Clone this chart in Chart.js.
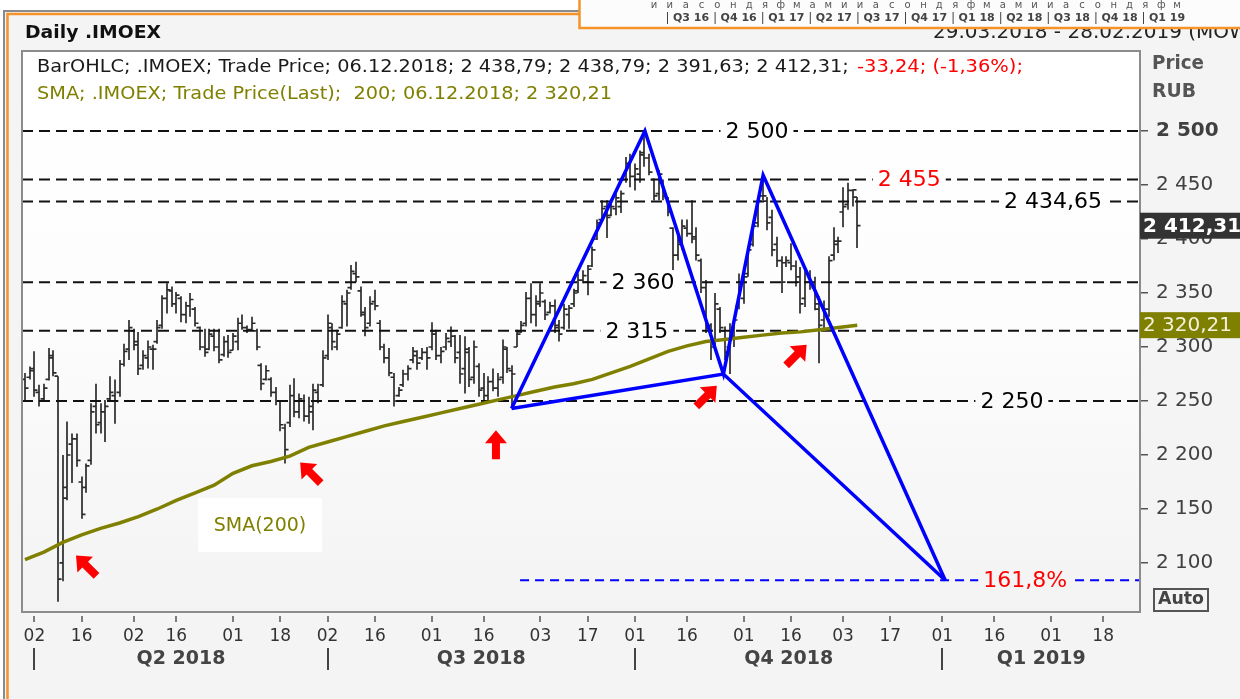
<!DOCTYPE html>
<html>
<head>
<meta charset="utf-8">
<title>Daily .IMOEX</title>
<script src="https://cdn.jsdelivr.net/npm/chart.js@4.4.0/dist/chart.umd.min.js"></script>
<style>
  html, body { margin: 0; padding: 0; background: #fff; }
  #wrap { width: 1240px; height: 699px; }
</style>
</head>
<body>
<div id="wrap"><canvas id="imoexChart" width="1240" height="699"></canvas></div>
<script>
// x is a trading-day index: 0 = 29.03.2018, 176 = 06.12.2018 (last bar)
const opens = [
  2270,2272,2280,2258,2252,2270,2292,2273,2100,2170, 2210,2215,2175,2170,2195,2245,2230,2240,2252,2255,
  2258,2284,2298,2315,2302,2283,2290,2298,2305,2320, 2345,2352,2340,2345,2330,2338,2335,2318,2300,2298,
  2310,2300,2293,2305,2297,2305,2322,2318,2316,2315, 2283,2270,2270,2258,2250,2225,2230,2255,2240,2250,
  2236,2240,2258,2265,2292,2318,2300,2318,2340,2355, 2368,2352,2330,2322,2342,2322,2300,2290,2272,2255,
  2265,2275,2288,2292,2290,2295,2300,2312,2292,2300, 2305,2310,2295,2280,2295,2272,2282,2262,2255,2268,
  2262,2272,2298,2278,2300,2314,2322,2345,2330,2340, 2342,2332,2338,2318,2318,2330,2340,2352,2362,2360,
  2375,2400,2418,2430,2422,2428,2430,2455,2470,2458, 2460,2480,2475,2455,2442,2452,2438,2410,2385,2395,
  2410,2405,2402,2380,2355,2320,2305,2335,2315,2300, 2310,2338,2345,2368,2395,2415,2440,2435,2420,2395,
  2380,2378,2378,2375,2365,2345,2360,2355,2335,2325, 2335,2385,2395,2425,2432,2445,2438.79
];
const highs = [
  2276,2282,2296,2265,2266,2299,2297,2273,2200,2231, 2220,2220,2180,2192,2248,2266,2248,2251,2273,2270,
  2288,2303,2325,2317,2314,2297,2306,2302,2325,2348, 2359,2356,2351,2347,2342,2350,2337,2319,2317,2317,
  2317,2317,2310,2311,2313,2327,2330,2320,2328,2317, 2285,2283,2272,2263,2251,2229,2265,2271,2257,2256,
  2254,2266,2266,2297,2330,2322,2316,2348,2353,2376, 2379,2356,2337,2347,2353,2325,2303,2299,2276,2263,
  2279,2283,2300,2297,2299,2300,2323,2316,2300,2313, 2319,2311,2311,2310,2300,2306,2285,2276,2273,2280,
  2276,2307,2300,2283,2316,2324,2351,2359,2348,2359, 2344,2342,2344,2325,2340,2339,2354,2368,2371,2376,
  2393,2418,2436,2436,2435,2442,2445,2476,2479,2470, 2482,2501,2479,2456,2464,2455,2439,2411,2405,2418,
  2418,2436,2411,2382,2362,2322,2350,2337,2319,2322, 2328,2368,2368,2393,2417,2439,2458,2439,2427,2402,
  2384,2384,2396,2380,2374,2371,2371,2365,2347,2343, 2384,2411,2402,2448,2452,2446,2438.79
];
const lows = [
  2251,2270,2254,2245,2249,2269,2273,2064,2083,2158, 2174,2189,2141,2165,2191,2220,2220,2212,2251,2229,
  2254,2282,2288,2297,2274,2279,2280,2279,2303,2317, 2331,2337,2331,2323,2322,2328,2319,2297,2291,2297,
  2296,2285,2291,2290,2297,2297,2316,2313,2316,2297, 2260,2269,2254,2246,2222,2192,2226,2235,2234,2231,
  2229,2223,2248,2263,2288,2297,2297,2317,2319,2353, 2360,2328,2310,2319,2334,2297,2285,2273,2245,2254,
  2263,2269,2285,2279,2288,2279,2297,2288,2285,2297, 2300,2285,2266,2257,2263,2266,2254,2248,2251,2259,
  2254,2266,2276,2245,2300,2313,2319,2322,2319,2337, 2325,2331,2313,2305,2316,2317,2337,2350,2359,2348,
  2374,2399,2418,2401,2421,2422,2424,2452,2448,2445, 2452,2467,2459,2436,2436,2436,2421,2371,2380,2390,
  2402,2396,2380,2350,2313,2288,2300,2313,2288,2275, 2300,2335,2340,2365,2393,2411,2436,2408,2384,2374,
  2350,2374,2371,2356,2331,2337,2353,2334,2285,2316, 2328,2380,2387,2411,2427,2430,2391.63
];
const closes = [
  2262,2278,2260,2250,2262,2290,2276,2085,2160,2200, 2215,2195,2145,2190,2240,2228,2240,2245,2258,2250,
  2284,2296,2318,2305,2280,2292,2300,2298,2318,2345, 2353,2340,2348,2330,2338,2344,2322,2300,2295,2312,
  2300,2288,2305,2295,2310,2322,2318,2316,2322,2300, 2266,2278,2258,2250,2228,2205,2255,2240,2252,2236,
  2245,2260,2250,2290,2322,2305,2312,2342,2350,2370, 2365,2332,2318,2340,2338,2300,2290,2276,2250,2260,
  2275,2280,2296,2285,2295,2290,2315,2292,2296,2308, 2315,2290,2275,2298,2270,2300,2260,2255,2268,2262,
  2270,2300,2280,2275,2312,2320,2345,2330,2342,2350, 2330,2338,2320,2312,2335,2336,2350,2362,2366,2372,
  2390,2415,2428,2420,2430,2438,2442,2470,2458,2465, 2478,2475,2462,2440,2460,2440,2425,2385,2398,2412,
  2405,2400,2385,2355,2318,2300,2340,2318,2295,2315, 2325,2360,2365,2390,2412,2435,2440,2415,2390,2380,
  2360,2380,2375,2360,2340,2360,2358,2340,2320,2335, 2380,2398,2398,2430,2445,2445.55,2412.31
];

// SMA(200), every 4th bar
const smaIndex = [0,4,8,12,16,20,24,28,32,36,40,44,48,52,56,60,64,68,72,76,80,84,88,92,96,100,104,108,112,116,120,124,128,132,136,140,144,148,152,156,160,164,168,172,176];
const smaValues = [2103,2110,2119,2126,2132,2137,2143,2150,2158,2165,2172,2183,2190,2194,2199,2207,2212,2217,2222,2227,2231,2235,2239,2243,2247,2251,2255,2259,2263,2266,2270,2276,2282,2289,2296,2301,2305,2307,2309,2311,2313,2314,2316,2318,2320.21];

// axis ticks
const tickIndex = [2,12,23,32,44,54,64,74,86,97,109,119,129,140,152,162,173,183,194,205,217,228];
const tickLabels = ['02','16','02','16','01','18','02','16','01','16','03','17','01','16','01','16','03','17','01','16','01','18'];
const quarterStart = [2,64,129,194];
const quarterLabels = ['Q2 2018','Q3 2018','Q4 2018','Q1 2019'];
const yTicks = [2100,2150,2200,2250,2300,2350,2400,2450,2500];

// horizontal levels drawn on the chart
const levelValues = [2500,2455,2434.65,2360,2315,2250];
const levelLabels = ['2 500','2 455','2 434,65','2 360','2 315','2 250'];
const levelLabelAt = [154.8,187,217.4,130.7,129.4,208.7];
const levelRed = [false,true,false,false,false,false];

// XABCD pattern and 161,8% projection
const patternX = [102.9,131.1,147.7,156.1,194.6];
const patternY = [2243,2500,2275,2459,2084];
const fibValue = 2084;
const fibStart = 104.7;
const fibLabelAt = 211.5;

// red arrows: tip position and direction
const arrowX = [10.8,58.2,99.6,146.3,165.3];
const arrowY = [2107,2193,2223,2264,2302];
const arrowDir = ['nw','nw','up','ne','ne'];

const lastClose = 2412.31;
const lastSma = 2320.21;

const X_MIN = -0.62, X_MAX = 235.79;
const FONT = 'DejaVu Sans';

function fmt(v) {
  return String(v).replace(/\B(?=(\d{3})+(?!\d))/g, ' ');
}

function fitText(ctx, text, x, y, width, font, color) {
  ctx.save();
  ctx.font = font;
  const w = ctx.measureText(text).width;
  ctx.translate(x, y);
  ctx.scale(width / w, 1);
  ctx.fillStyle = color;
  ctx.textAlign = 'left';
  ctx.textBaseline = 'middle';
  ctx.fillText(text, 0, 0);
  ctx.restore();
}

function drawArrow(ctx, tx, ty, dir) {
  const ang = { nw: -3 * Math.PI / 4, ne: -Math.PI / 4, up: -Math.PI / 2 }[dir];
  ctx.save();
  ctx.translate(tx, ty);
  ctx.rotate(ang);
  ctx.beginPath();
  ctx.moveTo(0, 0);
  ctx.lineTo(-13, -11);
  ctx.lineTo(-13, -4);
  ctx.lineTo(-29, -4);
  ctx.lineTo(-29, 4);
  ctx.lineTo(-13, 4);
  ctx.lineTo(-13, 11);
  ctx.closePath();
  ctx.fillStyle = '#ff0000';
  ctx.fill();
  ctx.restore();
}

// page background, window borders and the plot gradient
const backdrop = {
  id: 'backdrop',
  beforeDraw(chart) {
    const { ctx, chartArea: a, width: W, height: H } = chart;
    ctx.save();
    ctx.fillStyle = '#ffffff';
    ctx.fillRect(0, 0, W, H);
    ctx.fillStyle = '#f4f4f4';
    ctx.fillRect(5, 12, W - 5, H - 12);
    ctx.strokeStyle = '#8a8a8a';
    ctx.lineWidth = 2;
    ctx.beginPath(); ctx.moveTo(4, H); ctx.lineTo(4, 11); ctx.lineTo(W, 11); ctx.stroke();
    ctx.strokeStyle = '#f5922a';
    ctx.lineWidth = 2.5;
    ctx.beginPath(); ctx.moveTo(7.5, H); ctx.lineTo(7.5, 14); ctx.lineTo(W, 14); ctx.stroke();
    const g = ctx.createLinearGradient(0, a.top, 0, a.bottom);
    g.addColorStop(0, '#ffffff');
    g.addColorStop(0.45, '#fdfdfd');
    g.addColorStop(1, '#f3f3f3');
    chart.$plotBg = g;
    ctx.fillStyle = g;
    ctx.fillRect(a.left, a.top, a.right - a.left, a.bottom - a.top);
    ctx.restore();
  }
};

// OHLC bars through the chart scales
const ohlcBars = {
  id: 'ohlcBars',
  beforeDatasetsDraw(chart) {
    const { ctx, chartArea: a, scales: { x, y } } = chart;
    ctx.save();
    ctx.beginPath();
    ctx.rect(a.left, a.top, a.right - a.left, a.bottom - a.top);
    ctx.clip();
    ctx.strokeStyle = '#2b2b2b';
    ctx.lineWidth = 1.7;
    ctx.beginPath();
    for (let i = 0; i < closes.length; i++) {
      const px = Math.round(x.getPixelForValue(i));
      const po = y.getPixelForValue(opens[i]);
      const pc = y.getPixelForValue(closes[i]);
      ctx.moveTo(px, y.getPixelForValue(highs[i]));
      ctx.lineTo(px, y.getPixelForValue(lows[i]));
      ctx.moveTo(px - 3.5, po); ctx.lineTo(px, po);
      ctx.moveTo(px, pc); ctx.lineTo(px + 3.5, pc);
    }
    ctx.stroke();
    ctx.restore();
  }
};

// labels, arrows and the SMA(200) box inside the plot
const annotations = {
  id: 'annotations',
  afterDatasetsDraw(chart) {
    const { ctx, scales: { x, y } } = chart;
    ctx.save();
    ctx.font = '22px ' + FONT;
    ctx.textBaseline = 'middle';
    ctx.textAlign = 'center';
    const label = (text, xi, v, color) => {
      const px = x.getPixelForValue(xi);
      const py = y.getPixelForValue(v);
      const w = ctx.measureText(text).width + 10;
      ctx.fillStyle = chart.$plotBg;
      ctx.fillRect(px - w / 2, py - 12, w, 24);
      ctx.fillStyle = color;
      ctx.fillText(text, px, py + 1);
    };
    levelValues.forEach((v, k) => label(levelLabels[k], levelLabelAt[k], v, levelRed[k] ? '#ff0000' : '#000000'));
    label('161,8%', fibLabelAt, fibValue, '#ff0000');

    arrowX.forEach((xi, k) => drawArrow(ctx, x.getPixelForValue(xi), y.getPixelForValue(arrowY[k]), arrowDir[k]));

    const bx = x.getPixelForValue(49.7);
    const by = y.getPixelForValue(2135);
    ctx.fillStyle = '#ffffff';
    ctx.fillRect(bx - 62, by - 27, 124, 54);
    ctx.fillStyle = '#808000';
    ctx.font = '19px ' + FONT;
    ctx.fillText('SMA(200)', bx, by + 1);
    ctx.restore();
  }
};

// frame, header, legend, axis extras and value tags
const chrome = {
  id: 'chrome',
  afterDraw(chart) {
    const { ctx, chartArea: a, scales: { x, y }, width: W } = chart;
    ctx.save();
    ctx.strokeStyle = '#8c8c8c';
    ctx.lineWidth = 2;
    ctx.strokeRect(a.left, a.top, a.right - a.left, a.bottom - a.top);

    // header
    fitText(ctx, 'Daily .IMOEX', 25, 33, 136, 'bold 18px ' + FONT, '#111111');
    ctx.font = '20px ' + FONT;
    ctx.fillStyle = '#222222';
    ctx.textBaseline = 'alphabetic';
    ctx.textAlign = 'left';
    ctx.fillText('29.03.2018 - 28.02.2019 (MOW)', 933, 38);

    // overview strip in the top right corner (covers the top of the date range)
    ctx.fillStyle = '#fcfcfc';
    ctx.fillRect(579, 0, W - 579, 28);
    ctx.strokeStyle = '#f5922a';
    ctx.lineWidth = 2.5;
    ctx.beginPath(); ctx.moveTo(579.5, 0); ctx.lineTo(579.5, 28); ctx.lineTo(W, 28); ctx.stroke();
    const months = 'ииасондяфмамииасондяфмамииасондяфм';
    ctx.font = '10px ' + FONT;
    ctx.fillStyle = '#555555';
    ctx.textAlign = 'center';
    ctx.textBaseline = 'middle';
    for (let k = 0; k < months.length; k++) ctx.fillText(months[k], 654 + k * 15.85, 5);
    const quarters = ['Q3 16','Q4 16','Q1 17','Q2 17','Q3 17','Q4 17','Q1 18','Q2 18','Q3 18','Q4 18','Q1 19'];
    ctx.font = 'bold 11px ' + FONT;
    ctx.fillStyle = '#444444';
    ctx.textAlign = 'left';
    quarters.forEach((q, k) => {
      const qx = 667 + k * 47.6;
      ctx.fillRect(qx, 12, 1, 12);
      ctx.fillText(q, qx + 6, 18);
    });

    // legend lines
    fitText(ctx, 'BarOHLC; .IMOEX; Trade Price; 06.12.2018; 2 438,79; 2 438,79; 2 391,63; 2 412,31; ', 37, 68, 818, '17px ' + FONT, '#1a1a1a');
    fitText(ctx, '-33,24; (-1,36%);', 857, 68, 166, '17px ' + FONT, '#ff0000');
    fitText(ctx, 'SMA; .IMOEX; Trade Price(Last);  200; 06.12.2018; 2 320,21', 37, 95, 575, '17px ' + FONT, '#808000');

    // price axis title and Auto button
    fitText(ctx, 'Price', 1152, 64, 52, 'bold 19px ' + FONT, '#555555');
    fitText(ctx, 'RUB', 1152, 92, 44, 'bold 19px ' + FONT, '#555555');
    ctx.strokeStyle = '#555555';
    ctx.lineWidth = 2;
    ctx.strokeRect(1154, 589, 54, 22);
    fitText(ctx, 'Auto', 1158, 600, 46, 'bold 17px ' + FONT, '#444444');

    // x tick marks, quarter separators and labels
    ctx.fillStyle = '#555555';
    tickIndex.forEach(t => {
      const px = Math.round(x.getPixelForValue(t));
      ctx.fillRect(px - 0.75, 616, 1.5, 6);
    });
    ctx.fillStyle = '#444444';
    const qx = quarterStart.map(q => x.getPixelForValue(q));
    qx.forEach(px => ctx.fillRect(Math.round(px) - 1, 648, 2, 22));
    ctx.font = 'bold 19px ' + FONT;
    ctx.textAlign = 'center';
    ctx.textBaseline = 'middle';
    quarterLabels.forEach((q, k) => {
      const end = k + 1 < qx.length ? qx[k + 1] : a.right;
      ctx.fillText(q, (qx[k] + end) / 2, 659);
    });

    // last value tags on the price axis
    const tag = (v, bg, fg, font) => {
      const py = y.getPixelForValue(v);
      ctx.fillStyle = bg;
      ctx.fillRect(a.right, py - 13, W - a.right, 26);
      ctx.fillStyle = fg;
      ctx.font = font;
      ctx.textAlign = 'left';
      ctx.fillText(fmt(v).replace('.', ','), a.right + 3, py + 1);
    };
    tag(lastClose, '#333333', '#ffffff', 'bold 20px ' + FONT);
    tag(lastSma, '#808000', '#f2f2dc', '20px ' + FONT);
    ctx.restore();
  }
};

const toPoints = (xs, ys) => xs.map((v, k) => ({ x: v, y: ys[k] }));

const datasets = [
  {
    label: 'XABCD',
    data: toPoints(patternX, patternY),
    borderColor: '#0000ff', borderWidth: 3.5, pointRadius: 0
  },
  {
    label: 'XABCD diagonals',
    data: toPoints([patternX[0], patternX[2], patternX[4]], [patternY[0], patternY[2], patternY[4]]),
    borderColor: '#0000ff', borderWidth: 3.5, pointRadius: 0
  },
  {
    label: 'SMA(200)',
    data: toPoints(smaIndex, smaValues),
    borderColor: '#808000', borderWidth: 3.5, pointRadius: 0
  },
  {
    label: '161,8%',
    data: toPoints([fibStart, X_MAX], [fibValue, fibValue]),
    borderColor: '#0000ff', borderWidth: 2, borderDash: [9, 6], pointRadius: 0
  }
];
levelValues.forEach(v => datasets.push({
  label: String(v),
  data: toPoints([X_MIN, X_MAX], [v, v]),
  borderColor: '#111111', borderWidth: 2, borderDash: [11, 6], pointRadius: 0
}));

new Chart(document.getElementById('imoexChart'), {
  type: 'line',
  data: { datasets },
  options: {
    responsive: false,
    animation: false,
    events: [],
    layout: { padding: { left: 22, top: 51, right: 0, bottom: 0 } },
    plugins: { legend: { display: false }, tooltip: { enabled: false } },
    scales: {
      x: {
        type: 'linear',
        min: X_MIN,
        max: X_MAX,
        afterFit(s) { s.height = 87; },
        afterBuildTicks(s) { s.ticks = tickIndex.map(v => ({ value: v })); },
        grid: { display: false, drawTicks: false },
        border: { display: false },
        ticks: {
          autoSkip: false,
          maxRotation: 0,
          padding: 14,
          color: '#333333',
          font: { family: FONT, size: 17 },
          callback: (v, idx) => tickLabels[idx]
        }
      },
      y: {
        position: 'right',
        min: 2054.6,
        max: 2574.1,
        afterFit(s) { s.width = 100; },
        afterBuildTicks(s) { s.ticks = yTicks.map(v => ({ value: v })); },
        grid: { drawOnChartArea: false, drawTicks: true, tickLength: 8, color: '#555555', lineWidth: 1.5 },
        border: { display: false },
        ticks: {
          autoSkip: false,
          padding: 8,
          color: '#404040',
          font: c => ({ family: FONT, size: 20, weight: c.tick && c.tick.value === 2500 ? 'bold' : 'normal' }),
          callback: v => fmt(v)
        }
      }
    }
  },
  plugins: [backdrop, ohlcBars, annotations, chrome]
});
</script>
</body>
</html>
